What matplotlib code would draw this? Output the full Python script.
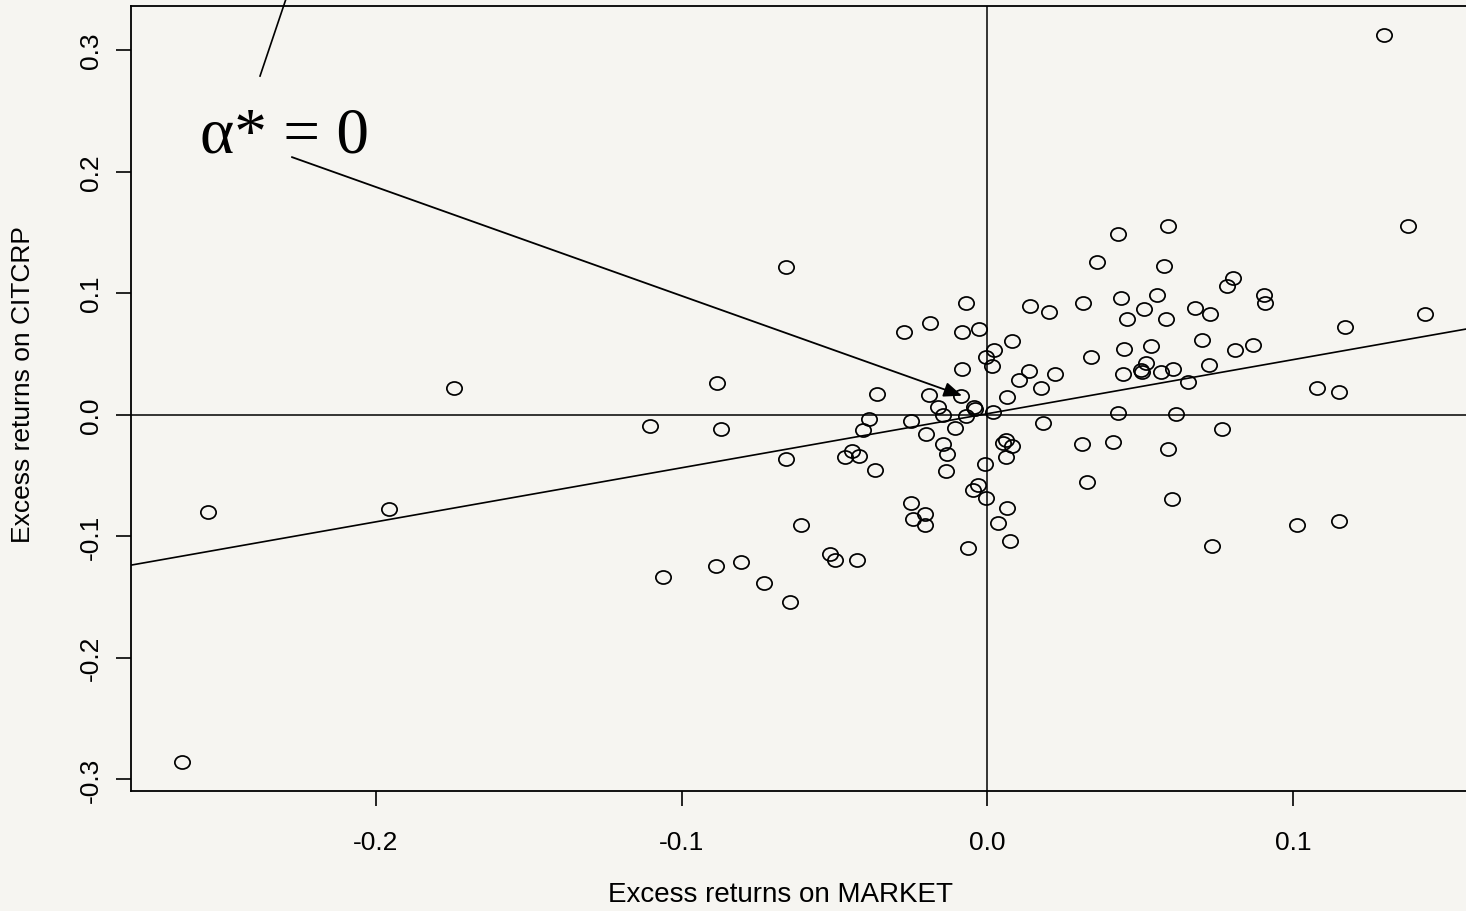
import numpy as np
import matplotlib
matplotlib.use('Agg')
import matplotlib.pyplot as plt
from matplotlib.path import Path
from matplotlib.transforms import Affine2D

# ---------------- data ----------------
market = [
    0.1297, 0.1374, 0.0590, 0.0428, 0.0360, 0.0579, 0.0804, 0.0785, 0.0905, 0.0908,
    0.1432, 0.1169, 0.0138, 0.0202, 0.0312, 0.0437, 0.0556, 0.0513, 0.0678, 0.0728,
    0.0456, 0.0584, 0.0081, 0.0023, 0.0701, 0.0447, 0.0535, 0.0339, 0.0870, 0.0809,
    0.0137, 0.0103, 0.0220, 0.0175, 0.0063, 0.0518, 0.0503, 0.0504, 0.0443, 0.0567,
    0.0607, 0.0724, 0.0655, 0.1077, 0.1151, 0.0426, 0.0617, 0.0183, 0.0767, 0.0061,
    0.0081, 0.0308, 0.0412, 0.0590, -0.0658, -0.0071, -0.0189, -0.0272, -0.0084, -0.0026,
    -0.0004, 0.0014, -0.0084, -0.0886, -0.0362, -0.0190, -0.0088, -0.0161, -0.0045, -0.0041,
    -0.0144, -0.0071, 0.0017, -0.0386, -0.0250, -0.1105, -0.0872, -0.0407, -0.0201, -0.0105,
    -0.0144, 0.0050, -0.0444, -0.0465, -0.0419, -0.0132, -0.0658, 0.0062, -0.0008, -0.0368,
    -0.0134, -0.0031, -0.0047, -0.0006, -0.0249, 0.0063, -0.0204, -0.0242, -0.0203, 0.0034,
    -0.0609, 0.0075, -0.0062, 0.0327, -0.1061, -0.0889, -0.0807, -0.0730, -0.0645, -0.0514,
    -0.0499, -0.0428, 0.0605, 0.0734, 0.1012, 0.1151, -0.1744, -0.2548, -0.1958, -0.2634,
]
citcrp = [
    0.3124, 0.1555, 0.1555, 0.1484, 0.1253, 0.1226, 0.1122, 0.1061, 0.0984, 0.0916,
    0.0828, 0.0723, 0.0896, 0.0847, 0.0916, 0.0962, 0.0982, 0.0867, 0.0880, 0.0826,
    0.0787, 0.0787, 0.0606, 0.0536, 0.0616, 0.0540, 0.0567, 0.0474, 0.0573, 0.0534,
    0.0361, 0.0287, 0.0332, 0.0219, 0.0147, 0.0425, 0.0370, 0.0355, 0.0337, 0.0353,
    0.0373, 0.0408, 0.0271, 0.0221, 0.0186, 0.0011, 0.0002, -0.0072, -0.0119, -0.0205,
    -0.0254, -0.0244, -0.0226, -0.0283, 0.1212, 0.0919, 0.0754, 0.0680, 0.0680, 0.0705,
    0.0478, 0.0398, 0.0375, 0.0258, 0.0172, 0.0161, 0.0156, 0.0067, 0.0060, 0.0046,
    -0.0003, -0.0009, 0.0021, -0.0036, -0.0053, -0.0091, -0.0119, -0.0129, -0.0156, -0.0112,
    -0.0238, -0.0236, -0.0302, -0.0349, -0.0338, -0.0320, -0.0364, -0.0351, -0.0407, -0.0456,
    -0.0463, -0.0577, -0.0616, -0.0682, -0.0728, -0.0765, -0.0820, -0.0859, -0.0910, -0.0892,
    -0.0906, -0.1043, -0.1098, -0.0557, -0.1339, -0.1244, -0.1216, -0.1386, -0.1542, -0.1147,
    -0.1194, -0.1194, -0.0697, -0.1081, -0.0906, -0.0876, 0.0216, -0.0804, -0.0777, -0.2857,
]
fit_intercept = 0.0008
fit_slope = 0.445

xticks = [-0.2, -0.1, 0.0, 0.1]
xtick_labels = ['-0.2', '-0.1', '0.0', '0.1']
yticks = [-0.3, -0.2, -0.1, 0.0, 0.1, 0.2, 0.3]
ytick_labels = ['-0.3', '-0.2', '-0.1', '0.0', '0.1', '0.2', '0.3']

xlabel = 'Excess returns on MARKET'
ylabel = 'Excess returns on CITCRP'
annot_label = 'α* = 0'

# ---------------- figure ----------------
W, H = 1466, 912
fig = plt.figure(figsize=(W / 100, H / 100), dpi=100, facecolor='#f6f5f1')
ax_left, ax_right, ax_top, ax_bottom = 131, 1480, 7.3, 791.7
ax = fig.add_axes([ax_left / W, (H - ax_bottom) / H,
                   (ax_right - ax_left) / W, (ax_bottom - ax_top) / H])
ax.set_facecolor('none')
ax.set_xlim(-0.2801, 0.1611)
ax.set_ylim(-0.3095, 0.3361)

for s in ax.spines.values():
    s.set_linewidth(1.3)
    s.set_color('black')

font = 'Liberation Sans'
ax.set_xticks(xticks, xtick_labels, fontfamily=font)
ax.set_yticks(yticks, ytick_labels, fontfamily=font)
ax.tick_params(axis='both', direction='out', length=11, width=1.2, labelsize=19,
               color='black')
ax.tick_params(axis='x', pad=17)
ax.tick_params(axis='y', pad=9)
for lab in ax.get_yticklabels():
    lab.set_rotation(90)
    lab.set_va('center')

# reference lines
ax.axhline(0, color='black', lw=1.1)
ax.axvline(0, color='black', lw=1.1)
ax.axline((0, fit_intercept), slope=fit_slope, color='black', lw=1.2)

# open elliptic markers
ell = Path.unit_circle().transformed(Affine2D().scale(1.17, 1.0))
ax.plot(market, citcrp, linestyle='none', marker=ell, markersize=11,
        markerfacecolor='none', markeredgecolor='black', markeredgewidth=1.25)

# annotation
ax.text(-0.2576, 0.2170, annot_label, fontfamily='Liberation Serif', fontsize=47,
        ha='left', va='baseline', color='black')
ax.annotate('', xy=(-0.0083, 0.0156), xytext=(-0.2275, 0.2120),
            arrowprops=dict(arrowstyle='-|>,head_length=1.1,head_width=0.45',
                            color='black', lw=1.3, shrinkA=0, shrinkB=0,
                            mutation_scale=10))
ax.plot([-0.2379, -0.2285], [0.2787, 0.3490], color='black', lw=1.2, clip_on=False)

# axis labels
ax.set_xlabel(xlabel, fontsize=20, fontfamily=font)
ax.xaxis.set_label_coords((781 - ax_left) / (ax_right - ax_left),
                          (ax_bottom - 895) / (ax_bottom - ax_top))
ax.xaxis.label.set_va('center')
ax.set_ylabel(ylabel, fontsize=19, fontfamily=font)
ax.yaxis.set_label_coords((23 - ax_left) / (ax_right - ax_left),
                          (ax_bottom - 385) / (ax_bottom - ax_top))
ax.yaxis.label.set_va('center')

fig.savefig('out.png', dpi=100, facecolor=fig.get_facecolor())
